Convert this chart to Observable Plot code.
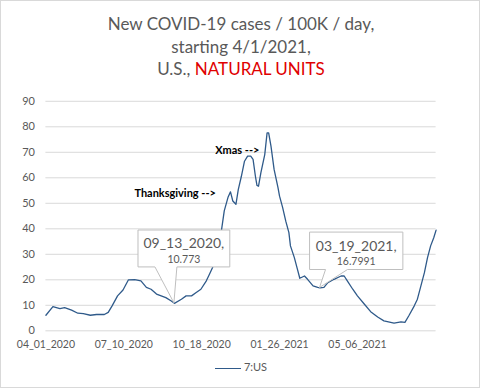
<!DOCTYPE html>
<html>
<head>
<meta charset="utf-8">
<script src="https://cdn.jsdelivr.net/npm/d3@7"></script>
<script src="https://cdn.jsdelivr.net/npm/@observablehq/plot@0.6"></script>
<style>
  html, body { margin: 0; padding: 0; background: #fff; }
  #frame { position: relative; width: 480px; height: 388px; box-sizing: border-box; border: 1px solid #d9d9d9; overflow: hidden; font-family: Lato, "Open Sans", sans-serif; }
  #title { position: absolute; left: 0; top: 12px; width: 480px; text-align: center; font-size: 17px; line-height: 22.5px; color: #595959; }
  #title .red { color: #e00000; }
  #chart { position: absolute; left: -1px; top: -1px; }
  #legend { position: absolute; left: 0; top: 359px; width: 480px; text-align: center; font-size: 11px; color: #595959; }
  #legend .swatch { display: inline-block; width: 26px; height: 0; border-top: 1.5px solid #2f5a8a; vertical-align: middle; margin-right: 3px; }
</style>
</head>
<body>
<div id="frame">
  <div id="chart"></div>
  <div id="title">New COVID-19 cases / 100K / day,<br>starting 4/1/2021,<br>U.S., <span class="red">NATURAL UNITS</span></div>
  <div id="legend"><span class="swatch"></span><span>7:US</span></div>
</div>
<script>
// Days since 04_01_2020 (category index) and 7-day average new cases per 100K
const dayIndex = [0, 9, 18, 24, 33, 41, 48, 57, 65, 75, 80, 85, 92, 99, 106, 114, 122, 129, 135, 142, 148, 154, 161, 165, 174, 180, 187, 193, 199, 206, 210, 214, 221, 225, 229, 234, 237, 240, 244, 247, 251, 255, 259, 263, 266, 269, 271, 273, 276, 281, 284, 286, 289, 293, 298, 300, 304, 308, 312, 314, 319, 323, 326, 332, 336, 343, 349, 352, 357, 362, 370, 379, 383, 387, 394, 400, 409, 417, 426, 434, 447, 456, 461, 466, 473, 477, 481, 486, 490, 494, 498, 501];
const usCases = [6.1, 9.5, 8.7, 9.1, 8.1, 6.9, 6.7, 6.1, 6.4, 6.4, 7.2, 9.8, 13.7, 16.0, 20.0, 20.1, 19.6, 17.0, 16.3, 14.4, 13.7, 13.0, 11.7, 10.773, 12.4, 13.7, 13.7, 15.0, 16.3, 19.6, 22.2, 24.8, 31.3, 38.5, 47.0, 52.5, 54.5, 50.9, 49.6, 55.4, 60.6, 66.5, 68.5, 68.5, 67.2, 60.6, 57.0, 56.7, 61.9, 69.1, 77.6, 77.6, 72.4, 63.3, 56.1, 52.8, 48.3, 43.0, 38.5, 33.3, 28.7, 24.1, 20.6, 21.5, 20.2, 17.6, 17.0, 16.7991, 17.0, 18.9, 20.2, 21.5, 21.5, 19.6, 16.3, 13.7, 10.4, 7.5, 5.4, 3.9, 3.0, 3.5, 3.3, 5.9, 9.8, 12.4, 17.0, 22.8, 28.7, 33.3, 36.5, 39.5];

const xTickDays = [0, 100, 200, 300, 400];
const xTickLabels = ["04_01_2020", "07_10_2020", "10_18_2020", "01_26_2021", "05_06_2021"];
const yTicks = [0, 10, 20, 30, 40, 50, 60, 70, 80, 90];

// Callouts on data points
const calloutDays = [165, 352];
const calloutLabels = ["09_13_2020,", "03_19_2021,"];
const calloutValues = [10.773, 16.7991];

// Text annotations anchored on dates
const noteDays = [240, 269];
const noteLabels = ["Thanksgiving -->", "Xmas -->"];

const series = dayIndex.map((d, i) => ({day: d, value: usCases[i]}));
const valueAt = d => series.find(p => p.day === d).value;
const callouts = calloutDays.map((d, i) => ({day: d, value: calloutValues[i], label: calloutLabels[i], valueText: String(calloutValues[i])}));
const notes = noteDays.map((d, i) => ({day: d, value: valueAt(d), label: noteLabels[i]}));

// box geometry relative to the anchored point (pixels)
const calloutLayout = [
  {left: -36, right: 56, top: -73, bottom: -36, p1: -19, p2: 3},
  {left: -10, right: 83.5, top: -55.5, bottom: -18, p1: 6, p2: 28}
];
const noteLayout = [{dx: -17, dy: -8}, {dx: 4, dy: -26}];

const gray = "#595959";

const chart = Plot.plot({
  width: 480,
  height: 388,
  marginLeft: 45.5,
  marginRight: 43.5,
  marginTop: 101,
  marginBottom: 57,
  style: {fontFamily: "Lato, 'Open Sans', sans-serif", fontSize: "11px", color: gray, background: "transparent"},
  x: {domain: [0, 501]},
  y: {domain: [0, 90]},
  marks: [
    Plot.ruleY(yTicks, {stroke: "#d9d9d9", strokeWidth: 1}),
    Plot.axisY({ticks: yTicks, tickSize: 0, tickPadding: 11, label: null, fill: gray, fontSize: 11}),
    Plot.axisX({ticks: xTickDays, tickSize: 0, tickPadding: 10, label: null, fill: gray, fontSize: 10.5,
      tickFormat: d => xTickLabels[xTickDays.indexOf(d)]}),
    Plot.line(series, {x: "day", y: "value", stroke: "#2f5a8a", strokeWidth: 1.3}),
    ...notes.map((n, i) => Plot.text([n], {x: "day", y: "value", text: "label", textAnchor: "end",
      dx: noteLayout[i].dx, dy: noteLayout[i].dy, fontWeight: "bold", fill: "#000", fontSize: 11})),
    Plot.dot(callouts, {x: "day", y: "value", r: 0,
      render(index, scales, values, dimensions, context) {
        const g = d3.create("svg:g");
        for (const i of index) {
          const c = callouts[i], L = calloutLayout[i];
          const px = scales.x(c.day), py = scales.y(c.value);
          const left = px + L.left, right = px + L.right, top = py + L.top, bottom = py + L.bottom;
          g.append("path")
            .attr("d", `M${left},${top}H${right}V${bottom}H${px + L.p2}L${px},${py}L${px + L.p1},${bottom}H${left}Z`)
            .attr("fill", "#fff")
            .attr("stroke", "#bfbfbf")
            .attr("stroke-width", 1);
          const cx = (left + right) / 2;
          g.append("text").attr("x", cx).attr("y", top + 13).attr("text-anchor", "middle")
            .attr("dominant-baseline", "central").attr("fill", gray).attr("font-size", 14).text(c.label);
          g.append("text").attr("x", cx).attr("y", top + 29).attr("text-anchor", "middle")
            .attr("dominant-baseline", "central").attr("fill", gray).attr("font-size", 10.5).text(c.valueText);
        }
        return g.node();
      }})
  ]
});
document.getElementById("chart").appendChild(chart);
</script>
</body>
</html>
